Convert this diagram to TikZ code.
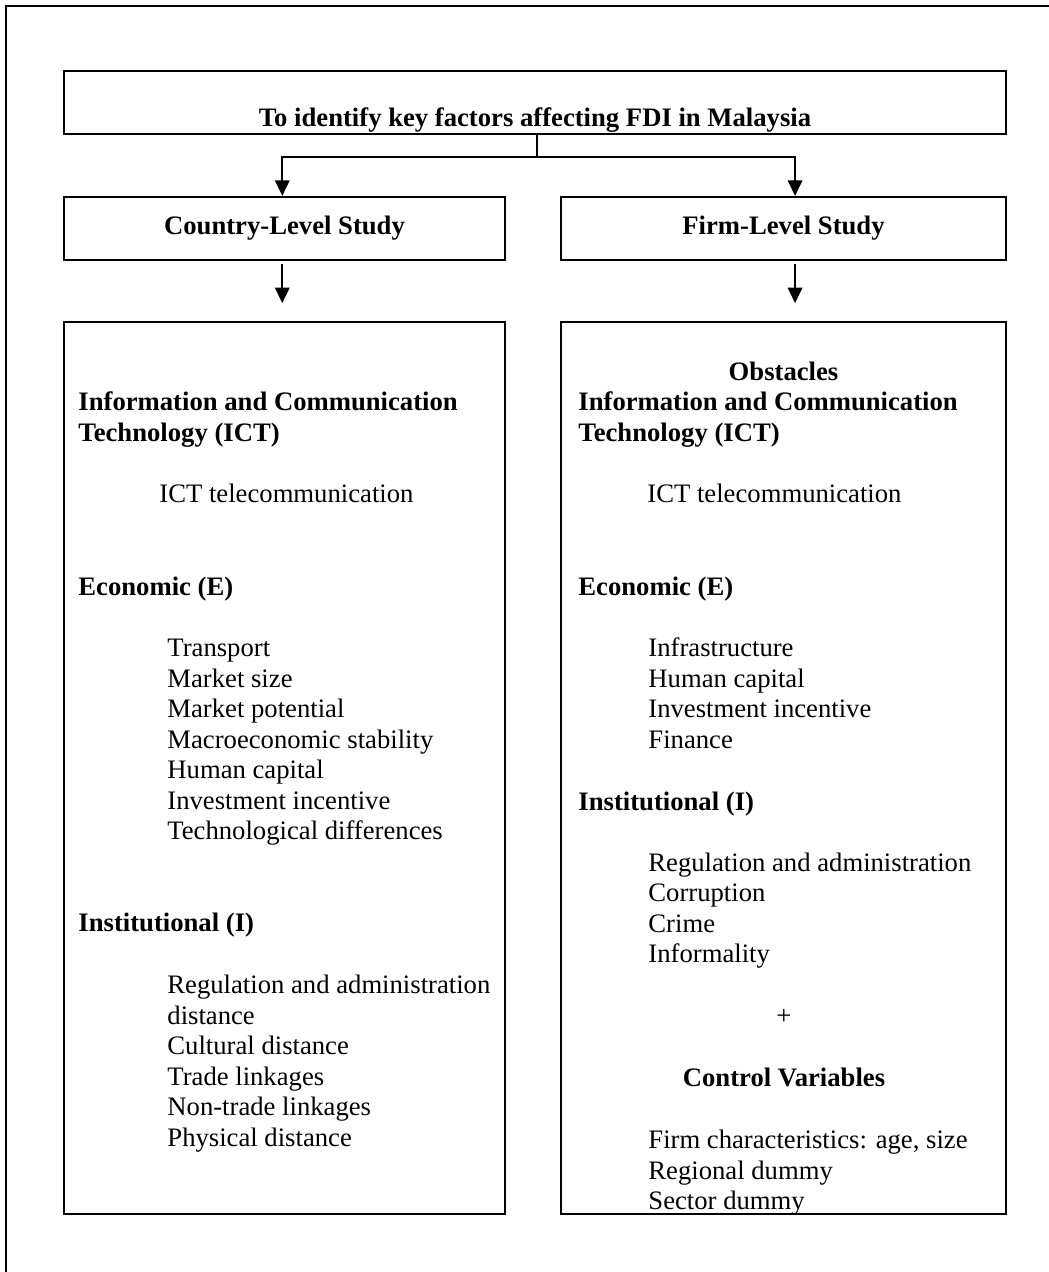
\documentclass[tikz,border=0pt]{standalone}
\usepackage{fontspec}
\setmainfont{Liberation Serif}
\usetikzlibrary{arrows.meta}
\def\pxu{0.45pt}

\begin{document}
\begin{tikzpicture}[x=\pxu, y=-\pxu,
		box/.style={draw, line width=1pt, inner sep=0pt, font=\fontsize{12}{14}\selectfont\bfseries},
		hd/.style={anchor=base west, inner sep=0pt, font=\fontsize{12}{14}\selectfont\bfseries},
		it/.style={anchor=base west, inner sep=0pt, font=\fontsize{12}{14}\selectfont},
		arr/.style={line width=1pt, -{Triangle[width=6.5pt,length=7pt]}}]
		%%%%% START %%%%%
		
		\useasboundingbox (0, 0) rectangle (1049, 1272);
		\draw[line width=0.8pt] (1049, 6) -- (6, 6) -- (6, 1272);
		
		\node[box, minimum width=942*\pxu, minimum height=63*\pxu] (goal) at (535, 102.5) {};
		\node[hd, anchor=base] (goaltxt) at (535, 126.5) {To identify key factors affecting FDI in Malaysia};
		
		\node[box, minimum width=441*\pxu, minimum height=63*\pxu] (ctry) at (284.5, 228.5) {Country-Level Study};
		\node[box, minimum width=445*\pxu, minimum height=63*\pxu] (firm) at (783.5, 228.5) {Firm-Level Study};
		
		\coordinate (split) at (537, 157);
		\draw[line width=1pt] (goal.south -| split) -- (split);
		\draw[arr] (split) -| ([xshift=-1pt]ctry.north);
		\draw[arr] (split) -| ([xshift=5.2pt]firm.north);
		
		\node[box, minimum width=441*\pxu, minimum height=892*\pxu] (ctrybody) at (284.5, 768) {};
		\node[box, minimum width=445*\pxu, minimum height=892*\pxu] (firmbody) at (783.5, 768) {};
		
		\draw[arr] ([xshift=-1pt, yshift=-1.4pt]ctry.south) -- ([xshift=-1pt, yshift=8pt]ctrybody.north);
		\draw[arr] ([xshift=5.2pt, yshift=-1.4pt]firm.south) -- ([xshift=5.2pt, yshift=8pt]firmbody.north);
		
		% country-level factors
		\node[hd] (cICTa) at (78, 410.5) {Information and Communication};
		\node[hd] (cICTb) at (78, 441) {Technology (ICT)};
		\node[it] (cTel) at (159, 502) {ICT telecommunication};
		
		\node[hd] (cEco) at (78, 595) {Economic (E)};
		\node[it] (cEa) at (167, 656) {Transport};
		\node[it] (cEb) at (167, 687) {Market size};
		\node[it] (cEc) at (167, 717) {Market potential};
		\node[it] (cEd) at (167, 748) {Macroeconomic stability};
		\node[it] (cEe) at (167, 778) {Human capital};
		\node[it] (cEf) at (167, 809) {Investment incentive};
		\node[it] (cEg) at (167, 839) {Technological differences};
		
		\node[hd] (cIns) at (78, 931) {Institutional (I)};
		\node[it] (cIa) at (167, 993) {Regulation and administration};
		\node[it] (cIb) at (167, 1024) {distance};
		\node[it] (cIc) at (167, 1054) {Cultural distance};
		\node[it] (cId) at (167, 1085) {Trade linkages};
		\node[it] (cIe) at (167, 1115) {Non-trade linkages};
		\node[it] (cIf) at (167, 1146) {Physical distance};
		
		% firm-level factors
		\node[hd, anchor=base] (fObs) at (783.5, 380) {Obstacles};
		\node[hd] (fICTa) at (578, 410.5) {Information and Communication};
		\node[hd] (fICTb) at (578, 441) {Technology (ICT)};
		\node[it] (fTel) at (647, 502) {ICT telecommunication};
		
		\node[hd] (fEco) at (578, 595) {Economic (E)};
		\node[it] (fEa) at (648, 656) {Infrastructure};
		\node[it] (fEb) at (648, 687) {Human capital};
		\node[it] (fEc) at (648, 717) {Investment incentive};
		\node[it] (fEd) at (648, 748) {Finance};
		
		\node[hd] (fIns) at (578, 810) {Institutional (I)};
		\node[it] (fIa) at (648, 871) {Regulation and administration};
		\node[it] (fIb) at (648, 901) {Corruption};
		\node[it] (fIc) at (648, 932) {Crime};
		\node[it] (fId) at (648, 962) {Informality};
		
		\node[it, anchor=base] (fPlus) at (784, 1024) {+};
		\node[hd, anchor=base] (fCtl) at (784, 1086) {Control Variables};
		\node[it] (fCa) at (648, 1148.5) {Firm characteristics: age, size};
		\node[it] (fCb) at (648, 1179) {Regional dummy};
		\node[it] (fCc) at (648, 1209) {Sector dummy};
		
		%%%%% END %%%%%
	\end{tikzpicture}
\end{document}
